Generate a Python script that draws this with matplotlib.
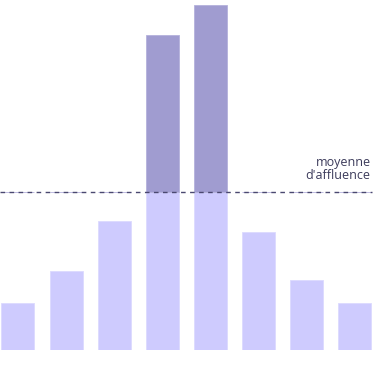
import matplotlib.pyplot as plt

# affluence par tranche (hauteur relative)
slots = list(range(8))
values = [47, 79, 129, 315, 345, 118, 70, 47]
mean_level = 157.5

light = '#cecbfe'
dark = '#a09cd0'

fig = plt.figure(figsize=(3.75, 3.66), dpi=100)
ax = fig.add_axes([0, 16.3 / 366, 1, 349.7 / 366])

low = [min(v, mean_level) for v in values]
high = [max(v - mean_level, 0) for v in values]

ax.bar(slots, low, width=0.686, color=light, edgecolor='#dcdaff', linewidth=0.6)
ax.bar(slots, high, bottom=mean_level, width=0.686, color=dark,
       edgecolor='#b4b1dc', linewidth=0.6)

ax.plot([-0.374, 7.35], [mean_level, mean_level], color='#4a4870',
        linewidth=1, dashes=(3.3, 3.2))

ax.text(7.33, mean_level + 10, "moyenne\nd'affluence", ha='right', va='bottom',
        fontsize=9, color='#3b3a5a', family=['Open Sans', 'DejaVu Sans'],
        linespacing=1.0)

ax.set_xlim(-0.374, 7.422)
ax.set_ylim(0, 349.7)
ax.axis('off')

fig.savefig('out.png', dpi=100)
